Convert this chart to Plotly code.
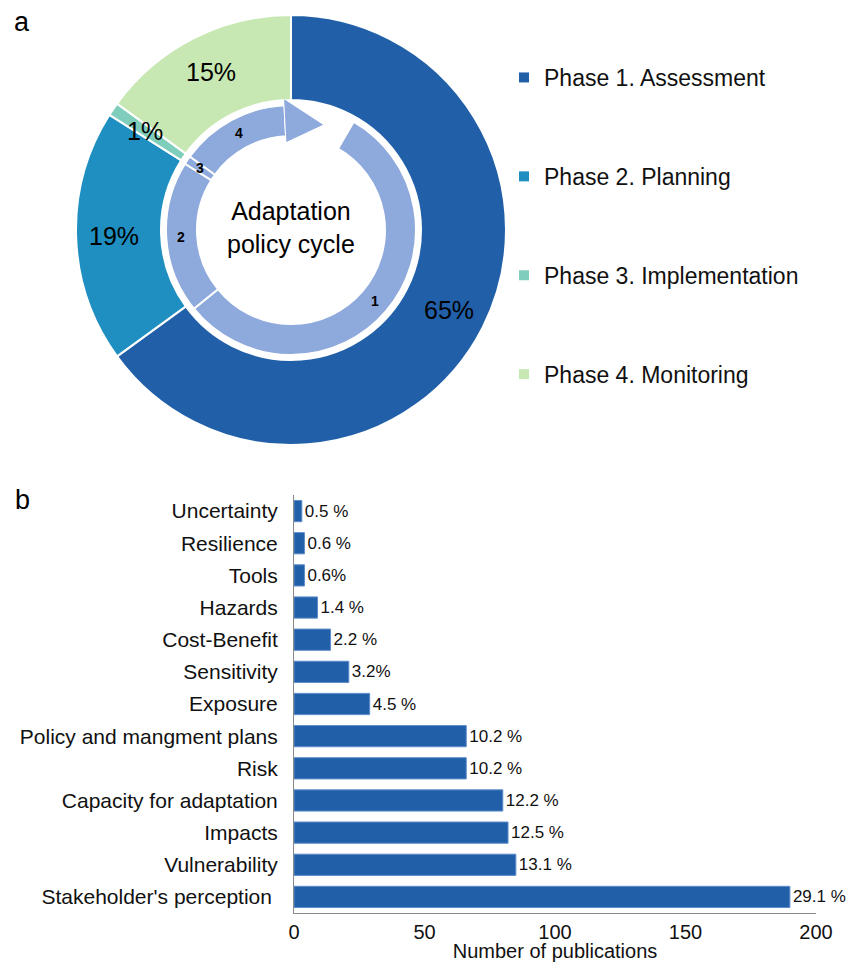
import math
import plotly.graph_objects as go

# ---- panel a: share of studies per phase of the adaptation policy cycle
phases = ["Phase 1. Assessment", "Phase 2. Planning", "Phase 3. Implementation", "Phase 4. Monitoring"]
phase_share = [65, 19, 1, 15]
phase_colors = ["#2160A8", "#1F8FC1", "#7FCDBB", "#C7E8B2"]

# inner cycle ring (steps 1-4 plus the open gap where the arrow points)
cycle_steps = ["1", "2", "3", "4", ""]
cycle_arc_deg = [201, 71, 4, 51, 33]
cycle_start_deg = 30

# ---- panel b: publications per topic
topics = ["Uncertainty", "Resilience", "Tools", "Hazards", "Cost-Benefit", "Sensitivity",
          "Exposure", "Policy and mangment plans", "Risk", "Capacity for adaptation",
          "Impacts", "Vulnerability", "Stakeholder's perception "]
publications = [3, 4, 4, 9, 14, 21, 29, 66, 66, 80, 82, 85, 190]
share_labels = ["0.5 %", "0.6 %", "0.6%", "1.4 %", "2.2 %", "3.2%", "4.5 %",
                "10.2 %", "10.2 %", "12.2 %", "12.5 %", "13.1 %", "29.1 %"]

# the page body keeps its default 8px margin, so the figure is 16px smaller
# than the window and everything below is laid out in window pixels
OFF = 8
W, H = 854 - 2 * OFF, 970 - 2 * OFF
FONT = "Liberation Sans, Arial, Helvetica, sans-serif"
RING = "#8EA9DB"

# donut geometry in window pixels
cx, cy = 291, 230
r_out, r_hole = 215, 130
r_ring, r_ring_in = 125, 94


def px(x, y):
    return (x - OFF) / W, 1 - (y - OFF) / H


def to_paper(r, deg):
    a = math.radians(deg)
    return px(cx + r * math.sin(a), cy - r * math.cos(a))


def dom(r):
    x0, y0 = px(cx - r, cy + r)
    x1, y1 = px(cx + r, cy - r)
    return dict(x=[x0, x1], y=[y0, y1])


def note(x, y, text, size, **kw):
    return dict(x=x, y=y, xref="paper", yref="paper", text=text, showarrow=False,
                xanchor="center", yanchor="middle", font=dict(size=size, color="black"), **kw)


fig = go.Figure()

fig.add_trace(go.Pie(
    labels=phases, values=phase_share, sort=False, direction="clockwise", rotation=0,
    hole=r_hole / r_out, domain=dom(r_out), textinfo="none", showlegend=False,
    marker=dict(colors=phase_colors, line=dict(color="white", width=2)),
))

fig.add_trace(go.Pie(
    labels=["s1", "s2", "s3", "s4", "gap"], values=cycle_arc_deg, sort=False,
    direction="clockwise", rotation=cycle_start_deg,
    hole=r_ring_in / r_ring, domain=dom(r_ring), textinfo="none", showlegend=False,
    marker=dict(colors=[RING] * 4 + ["rgba(0,0,0,0)"], line=dict(color="white", width=2)),
))

fig.add_trace(go.Bar(
    y=topics, x=publications, orientation="h", text=share_labels,
    textposition="outside", cliponaxis=False, showlegend=False,
    textfont=dict(size=17, color="#111"),
    marker=dict(color="#2160A8", line=dict(color="#5E8DCB", width=1)),
    width=0.66,
))

# legend entries (one group each so they can be spaced out)
for name, col in zip(phases, phase_colors):
    fig.add_trace(go.Scatter(
        x=[None], y=[None], mode="markers", name=name, legendgroup=name,
        marker=dict(symbol="square", size=10, color=col),
    ))

annotations = []
# percentages on the outer donut
start = 0
total = sum(phase_share)
for v in phase_share:
    mid = (start + v / 2) / total * 360
    annotations.append(note(*to_paper(177, mid), f"{v}%", 25))
    start += v

# step numbers on the inner ring
ang = cycle_start_deg
for lab, arc in zip(cycle_steps, cycle_arc_deg):
    if lab:
        annotations.append(note(*to_paper(110, ang + arc / 2), f"<b>{lab}</b>", 14))
    ang += arc

annotations += [
    note(*px(cx, 227), "Adaptation<br>policy cycle", 25),
    note(*px(22, 22), "a", 27),
    note(*px(22, 500), "b", 27),
]

# arrow head at the end of step 4
head_base = cycle_start_deg + sum(cycle_arc_deg[:4]) - 360
p1 = to_paper(131, head_base)
p2 = to_paper(110, head_base + 20)
p3 = to_paper(88, head_base)
arrow = dict(type="path", xref="paper", yref="paper", fillcolor=RING, line=dict(width=0),
             path=f"M{p1[0]},{p1[1]} L{p2[0]},{p2[1]} L{p3[0]},{p3[1]} Z")

lx, ly = px(504, 56)
bx0, by0 = px(294, 913)
bx1, by1 = px(816, 495)

fig.update_layout(
    width=W, height=H, margin=dict(l=0, r=0, t=0, b=0),
    paper_bgcolor="white", plot_bgcolor="white",
    font=dict(family=FONT, color="#111"),
    annotations=annotations, shapes=[arrow],
    legend=dict(x=lx, y=ly, xanchor="left", yanchor="top",
                font=dict(size=23, color="#111"), tracegroupgap=66,
                bgcolor="rgba(0,0,0,0)"),
    xaxis=dict(domain=[bx0, bx1], range=[0, 200], dtick=50, showgrid=False,
               type="linear", automargin=False,
               zeroline=False, showline=True, linecolor="#888", linewidth=1,
               tickfont=dict(size=20), ticklabelstandoff=1,
               title=dict(text="Number of publications", font=dict(size=20))),
    yaxis=dict(domain=[by0, by1], type="category", autorange="reversed", showgrid=False,
               automargin=False,
               zeroline=False, showline=True, linecolor="#888", linewidth=1,
               tickfont=dict(size=21), ticklabelstandoff=11),
    bargap=0.34,
)

fig.write_html("out.html")
